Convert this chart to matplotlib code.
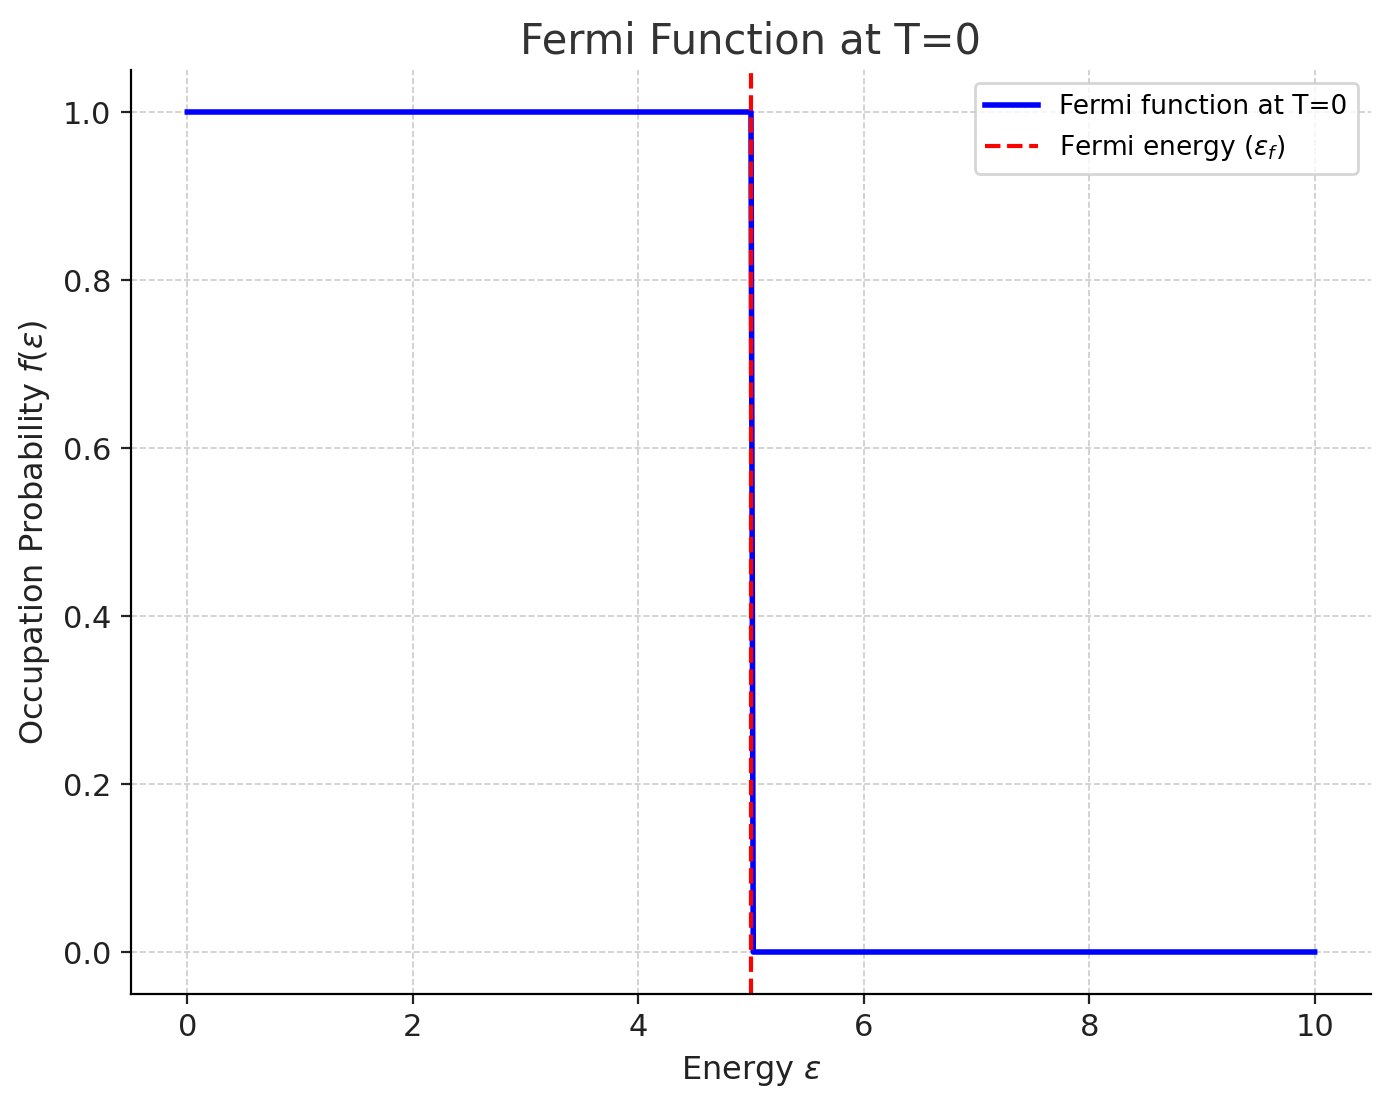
import matplotlib
matplotlib.use("Agg")
import matplotlib.pyplot as plt

energy = [0.0, 5.0, 5.02, 10.0]
occupation = [1.0, 1.0, 0.0, 0.0]
fermi_energy = 5.0

fig = plt.figure(figsize=(6.955, 5.52), dpi=200)
ax = fig.add_axes([131/1391, 1-994/1104, (1371-131)/1391, (994-70)/1104])
ax.plot(energy, occupation, color='blue', lw=2, label='Fermi function at T=0')
ax.axvline(fermi_energy, color='red', ls='--', lw=1.5, label=r'Fermi energy ($\epsilon_f$)')
ax.set_xlim(-0.5, 10.5)
ax.set_ylim(-0.05, 1.05)
ax.set_xticks([0, 2, 4, 6, 8, 10])
ax.set_yticks([0.0, 0.2, 0.4, 0.6, 0.8, 1.0])
ax.grid(True, ls='--', color='#cccccc', lw=0.6)
for s in ['top', 'right']:
    ax.spines[s].set_visible(False)
ax.tick_params(labelsize=11, colors='#222222')
ax.set_title('Fermi Function at T=0', fontsize=15, color='#333333')
ax.set_xlabel(r'Energy $\epsilon$', fontsize=11.5, color='#222222')
ax.set_ylabel(r'Occupation Probability $f(\epsilon)$', fontsize=11.5, color='#222222')
ax.legend(loc='upper right', fontsize=9.5)
fig.savefig('out.png', dpi=200)
